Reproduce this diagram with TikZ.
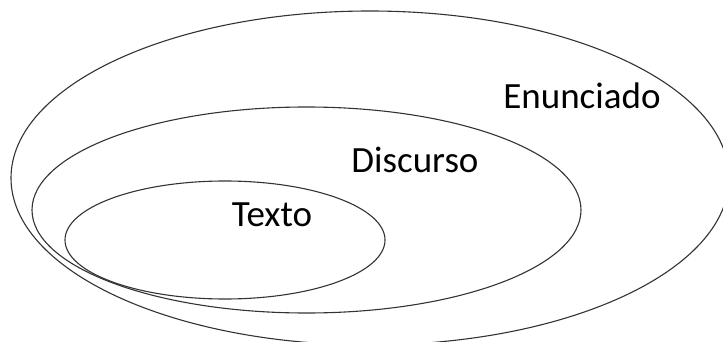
\documentclass[tikz,border=0pt]{standalone}
\usepackage{fontspec}
\setmainfont{Carlito}
\begin{document}
\begin{tikzpicture}[x=1pt,y=-1pt,
  set/.style={draw=black!80, line width=1.1pt},
  setlabel/.style={anchor=base, inner sep=0pt, font=\fontsize{37}{44}\selectfont}]
  \useasboundingbox (0,0) rectangle (723,342);
  \clip (0,0) rectangle (723,342);
  % nested sets
  \draw[set] (370,178) ellipse [x radius=359, y radius=167];
  \draw[set] (306.5,210) ellipse [x radius=274.5, y radius=103];
  \draw[set] (225,240) ellipse [x radius=160, y radius=59];
  % labels
  \node[setlabel] (enunciado) at (582,109) {Enunciado};
  \node[setlabel] (discurso) at (415,172) {Discurso};
  \node[setlabel] (texto) at (272,226) {Texto};
\end{tikzpicture}
\end{document}
